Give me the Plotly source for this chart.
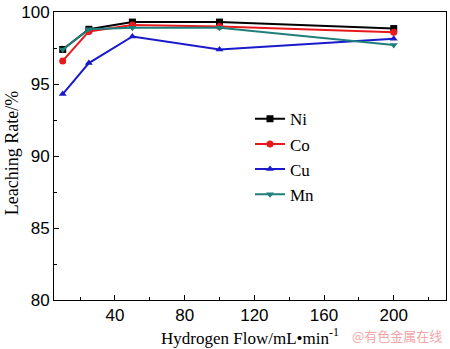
import plotly.graph_objects as go

flow = [10, 25, 50, 100, 200]
ni = [97.4, 98.8, 99.3, 99.3, 98.85]
co = [96.6, 98.65, 99.1, 99.0, 98.6]
cu = [94.3, 96.45, 98.3, 97.4, 98.15]
mn = [97.4, 98.8, 98.9, 98.9, 97.7]

series = [
    ("Ni", ni, "#000000", "square"),
    ("Co", co, "#e8191c", "circle"),
    ("Cu", cu, "#1a1acc", "triangle-up"),
    ("Mn", mn, "#1f7f7a", "triangle-down"),
]

fig = go.Figure()
for name, vals, col, sym in series:
    fig.add_trace(go.Scatter(
        x=flow, y=vals, name=name, mode="lines+markers",
        line=dict(color=col, width=2),
        marker=dict(color=col, symbol=sym, size=7),
    ))

fig.update_layout(
    width=450, height=349,
    margin=dict(l=54, r=3, t=9, b=49),
    paper_bgcolor="white", plot_bgcolor="white",
    showlegend=True,
    legend=dict(x=0.5, y=0.69, xanchor="left", yanchor="top",
                font=dict(family="Liberation Serif", size=17, color="black"),
                bgcolor="rgba(0,0,0,0)", tracegroupgap=0),
    xaxis=dict(range=[5, 230], tickvals=[40, 80, 120, 160, 200],
               ticks="inside", ticklen=5, tickcolor="black",
               minor=dict(tickvals=[20, 60, 100, 140, 180, 220], ticks="inside", ticklen=3, tickcolor="black"),
               showline=True, linecolor="black", linewidth=1, mirror=True,
               showgrid=False, zeroline=False,
               tickfont=dict(family="Liberation Sans", size=17, color="black"),
               title=dict(text="Hydrogen Flow/mL•min<sup>-1</sup>",
                          font=dict(family="Liberation Serif", size=17, color="black"), standoff=2)),
    yaxis=dict(range=[80, 100], tickvals=[80, 85, 90, 95, 100],
               ticks="inside", ticklen=5, tickcolor="black",
               ticklabeloverflow="allow",
               minor=dict(tickvals=[82.5, 87.5, 92.5, 97.5], ticks="inside", ticklen=3, tickcolor="black"),
               showline=True, linecolor="black", linewidth=1, mirror=True,
               showgrid=False, zeroline=False,
               tickfont=dict(family="Liberation Sans", size=17, color="black")),
)

fig.add_annotation(text="Leaching Rate/%", xref="paper", yref="paper",
                   x=-0.107, y=0.51, xanchor="center", yanchor="middle", textangle=-90,
                   showarrow=False,
                   font=dict(family="Liberation Serif", size=18, color="black"))

fig.add_annotation(text="@有色金属在线", xref="paper", yref="paper",
                   x=0.995, y=-0.122, xanchor="right", yanchor="middle", showarrow=False,
                   font=dict(family="Noto Sans CJK SC", size=13, color="#f4a6a6"))

fig.write_html("out.html")
